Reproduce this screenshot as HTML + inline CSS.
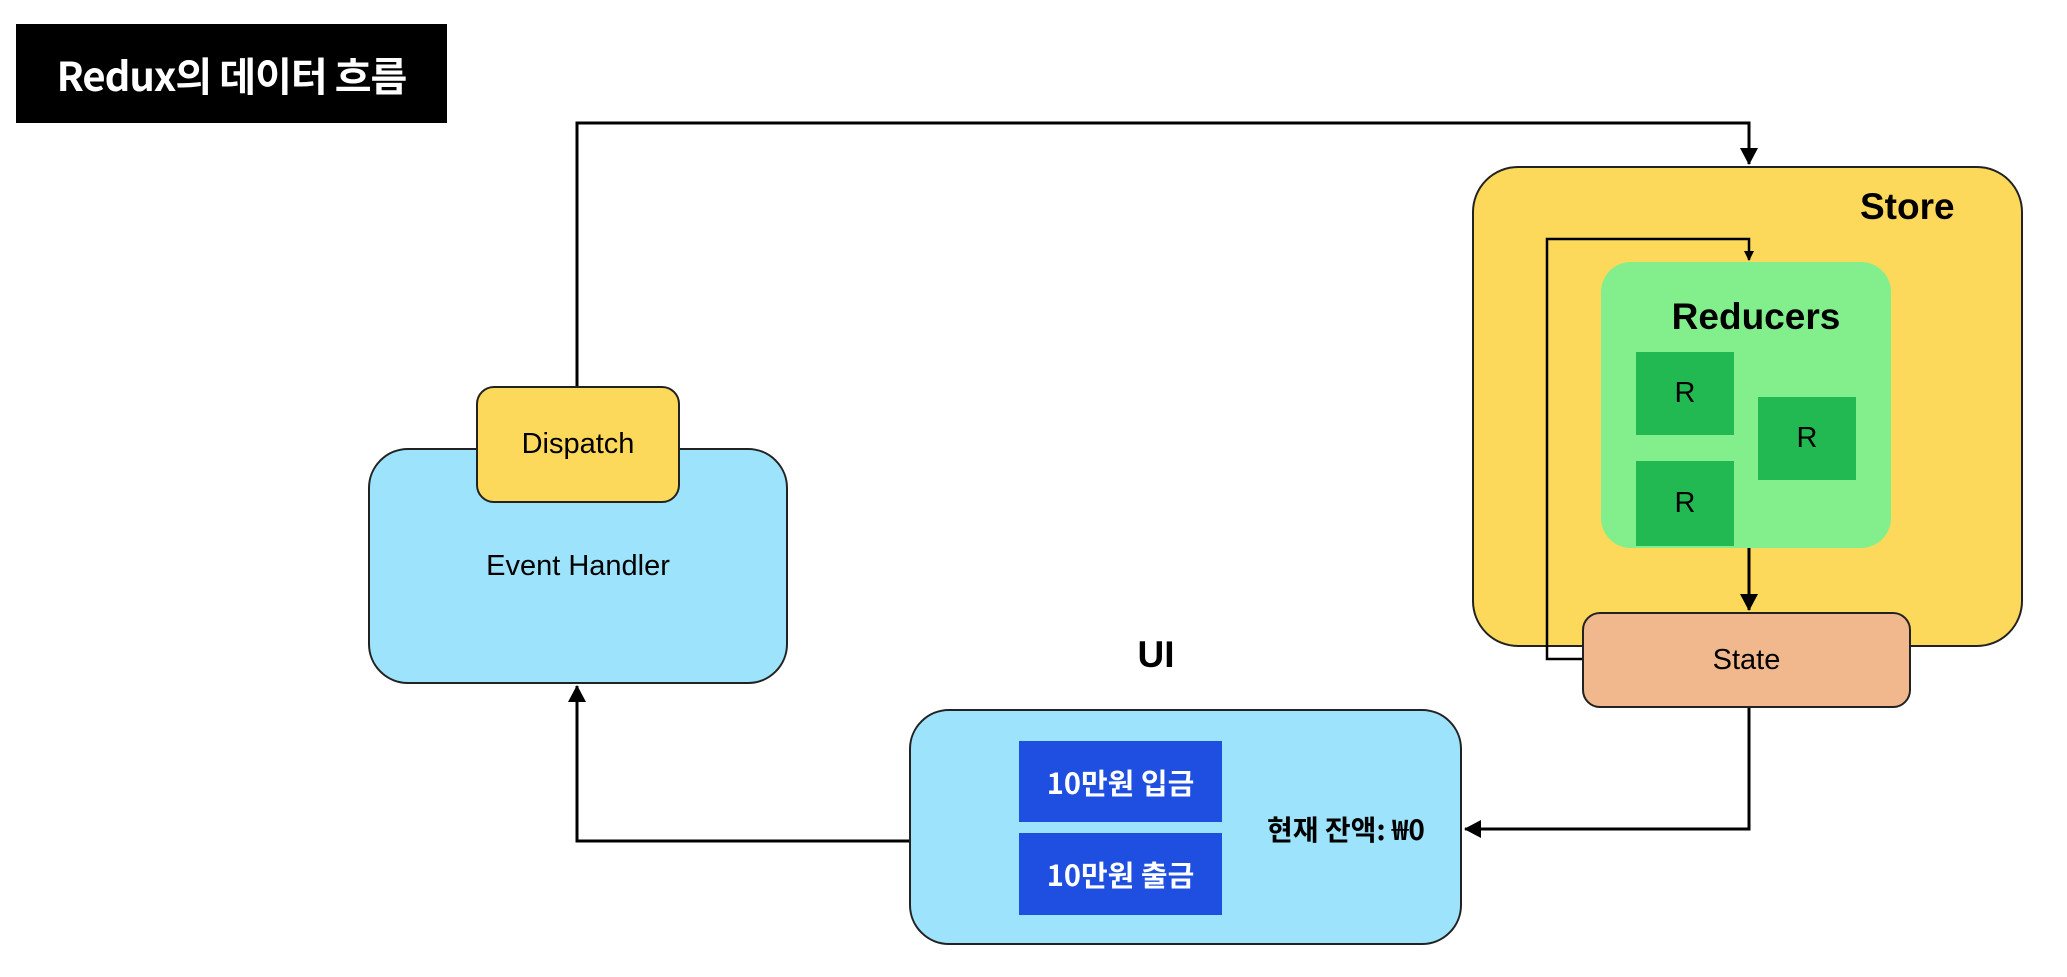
<!DOCTYPE html>
<html><head><meta charset="utf-8"><style>
body{margin:0;width:2067px;height:977px;background:#fff;overflow:hidden;position:relative;font-family:"Liberation Sans","Noto Sans CJK KR",sans-serif}
.a{position:absolute;box-sizing:border-box}
.c{display:flex;align-items:center;justify-content:center}
</style></head><body>
<div class="a c" style="left:16px;top:24px;width:431px;height:99px;background:#000;color:#fff;font-size:40px;font-weight:bold;font-family:'Noto Sans CJK KR',sans-serif;letter-spacing:-1px">Redux의 데이터 흐름</div>

<div class="a" style="left:1472px;top:166px;width:551px;height:481px;background:#fcd95a;border:2px solid #222;border-radius:46px"></div>
<div class="a" style="left:1860px;top:186px;font-size:37px;font-weight:bold">Store</div>
<div class="a" style="left:1601px;top:262px;width:290px;height:286px;background:#82ef8c;border-radius:30px"></div>
<div class="a c" style="left:1601px;top:290px;width:310px;height:54px;font-size:37px;font-weight:bold">Reducers</div>
<div class="a c" style="left:1636px;top:352px;width:98px;height:83px;background:#22b952;font-size:29px">R</div>
<div class="a c" style="left:1758px;top:397px;width:98px;height:83px;background:#22b952;font-size:29px">R</div>
<div class="a c" style="left:1636px;top:461px;width:98px;height:85px;background:#22b952;font-size:29px">R</div>

<svg class="a" style="left:0;top:0" width="2067" height="977">
<defs><marker id="m" markerWidth="10" markerHeight="10" refX="9" refY="5" orient="auto" markerUnits="userSpaceOnUse"><path d="M0,0 L10,5 L0,10z" fill="#000"/></marker>
<marker id="m2" markerWidth="18" markerHeight="18" refX="16" refY="9" orient="auto" markerUnits="userSpaceOnUse"><path d="M0,0 L17,9 L0,18z" fill="#000"/></marker></defs>
<g fill="none" stroke="#000" stroke-width="3">
<polyline points="577,388 577,123 1749,123 1749,164" marker-end="url(#m2)"/>
<polyline points="1584,659 1547,659 1547,239 1749,239 1749,260" stroke-width="2.5" marker-end="url(#m)"/>
<polyline points="1749,548 1749,610" marker-end="url(#m2)"/>
<polyline points="1749,708 1749,829 1465,829" marker-end="url(#m2)"/>
<polyline points="909,841 577,841 577,686" marker-end="url(#m2)"/>
</g></svg>

<div class="a c" style="left:1582px;top:612px;width:329px;height:96px;background:#f2b88d;border:2px solid #222;border-radius:18px;font-size:29px">State</div>

<div class="a c" style="left:368px;top:448px;width:420px;height:236px;background:#9de3fb;border:2px solid #222;border-radius:40px;font-size:29px;padding-bottom:0">Event Handler</div>
<div class="a c" style="left:476px;top:386px;width:204px;height:117px;background:#fcd95a;border:2px solid #222;border-radius:18px;font-size:29px">Dispatch</div>

<div class="a c" style="left:1106px;top:628px;width:100px;height:54px;font-size:37px;font-weight:bold">UI</div>
<div class="a" style="left:909px;top:709px;width:553px;height:236px;background:#9de3fb;border:2px solid #222;border-radius:40px"></div>
<div class="a c" style="left:1019px;top:741px;width:203px;height:81px;background:#1e4fe0;color:#fff;font-size:29px;font-weight:bold;font-family:'Noto Sans CJK KR',sans-serif">10만원 입금</div>
<div class="a c" style="left:1019px;top:833px;width:203px;height:82px;background:#1e4fe0;color:#fff;font-size:29px;font-weight:bold;font-family:'Noto Sans CJK KR',sans-serif">10만원 출금</div>
<div class="a c" style="left:1236px;top:806px;width:220px;height:46px;font-size:28px;font-weight:bold;font-family:'Noto Sans CJK KR',sans-serif">현재 잔액: ₩0</div>
</body></html>
